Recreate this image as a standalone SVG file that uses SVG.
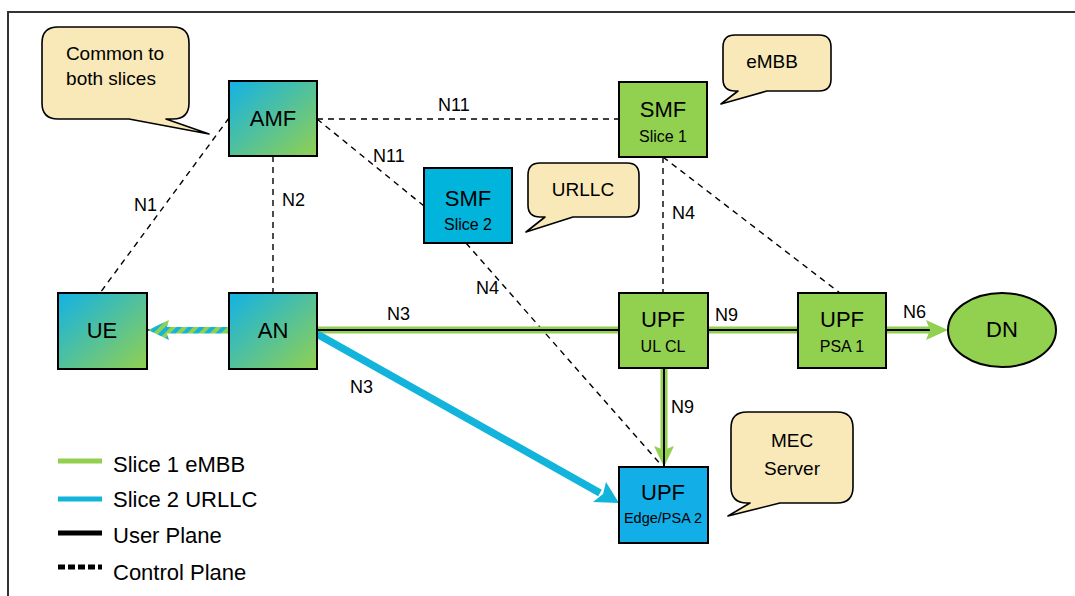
<svg xmlns="http://www.w3.org/2000/svg" width="1075" height="596" viewBox="0 0 1075 596">
<style>
text{font-family:"Liberation Sans",Arial,sans-serif;fill:#000}
.nt{font-size:22px;text-anchor:middle}
.st{font-size:16px;text-anchor:middle}
.lbl{font-size:18px}
.co{font-size:19px;text-anchor:middle}
.lg{font-size:22px}
.box{stroke:#000;stroke-width:2}
.call{fill:#f9e9b9;stroke:#000;stroke-width:1.6;stroke-linejoin:round}
.cp{stroke:#000;stroke-width:1.4;stroke-dasharray:6,5;fill:none}
.gl{stroke:#92d050;stroke-width:7;fill:none}
.bk{stroke:#000;stroke-width:2;fill:none}
</style>
<defs>
<linearGradient id="grad" x1="0" y1="0" x2="1" y2="1">
<stop offset="0" stop-color="#12b2e6"/>
<stop offset="1" stop-color="#92d050"/>
</linearGradient>
<pattern id="stripe" width="8" height="8" patternUnits="userSpaceOnUse" patternTransform="rotate(45)">
<rect width="8" height="8" fill="#12b4dc"/>
<rect width="4" height="8" fill="#92d050"/>
</pattern>
</defs>
<rect x="0" y="0" width="1075" height="596" fill="#fff"/>
<rect x="8" y="12" width="1075" height="600" fill="none" stroke="#333" stroke-width="2"/>

<g id="connectors">
<line class="cp" x1="317" y1="119" x2="619" y2="119"/>
<line class="cp" x1="317" y1="119" x2="424" y2="206"/>
<line class="cp" x1="229" y1="118" x2="100" y2="293"/>
<line class="cp" x1="273" y1="156" x2="273" y2="293"/>
<line class="cp" x1="663" y1="157" x2="663" y2="293"/>
<line class="cp" x1="663" y1="157" x2="840" y2="293"/>
<line class="cp" x1="466" y1="243" x2="662" y2="466"/>
<line x1="147" y1="330" x2="229" y2="330" stroke="#000" stroke-width="1.5"/>
<rect x="166" y="327" width="63" height="6.5" fill="url(#stripe)"/>
<polygon points="148,330 169,320 166,330 169,340" fill="url(#stripe)"/>
<line class="gl" x1="317" y1="330" x2="619" y2="330"/>
<line class="bk" x1="317" y1="330" x2="619" y2="330"/>
<line class="gl" x1="708" y1="330" x2="798" y2="330"/>
<line class="bk" x1="708" y1="330" x2="798" y2="330"/>
<line class="gl" x1="886" y1="330" x2="930" y2="330"/>
<line class="bk" x1="886" y1="330" x2="930" y2="330"/>
<polygon points="948,330 926,320 930,330 926,340" fill="#92d050"/>
<line class="gl" x1="664" y1="368" x2="664" y2="450"/>
<line class="bk" x1="664" y1="368" x2="664" y2="466"/>
<polygon points="664,467 654,446 664,450 674,446" fill="#92d050"/>
<line class="bk" x1="664" y1="448" x2="664" y2="467"/>
<line x1="317" y1="334" x2="600" y2="493" stroke="#12b4dc" stroke-width="7.5"/>
<polygon points="619,503 593,502 603,494 606,482" fill="#12b4dc"/>
</g>

<g id="labels">
<text class="lbl" x="438" y="111">N11</text>
<text class="lbl" x="373" y="162">N11</text>
<text class="lbl" x="134" y="211">N1</text>
<text class="lbl" x="282" y="206">N2</text>
<text class="lbl" x="672" y="219">N4</text>
<text class="lbl" x="476" y="294">N4</text>
<text class="lbl" x="387" y="320">N3</text>
<text class="lbl" x="350" y="393">N3</text>
<text class="lbl" x="715" y="321">N9</text>
<text class="lbl" x="903" y="318">N6</text>
<text class="lbl" x="671" y="413">N9</text>
</g>

<g id="amf">
<rect class="box" x="229" y="81" width="88" height="75" fill="url(#grad)"/>
<text class="nt" x="273" y="126">AMF</text>
</g>
<g id="smf1">
<rect class="box" x="619" y="82" width="88" height="75" fill="#92d050"/>
<text class="nt" x="663" y="117">SMF</text>
<text class="st" x="663" y="142">Slice 1</text>
</g>
<g id="smf2">
<rect class="box" x="424" y="168" width="88" height="75" fill="#00b4dc"/>
<text class="nt" x="468" y="206">SMF</text>
<text class="st" x="468" y="230">Slice 2</text>
</g>
<g id="ue">
<rect class="box" x="58" y="293" width="89" height="76" fill="url(#grad)"/>
<text class="nt" x="102" y="338">UE</text>
</g>
<g id="an">
<rect class="box" x="229" y="293" width="88" height="76" fill="url(#grad)"/>
<text class="nt" x="273" y="338">AN</text>
</g>
<g id="upf-ulcl">
<rect class="box" x="619" y="293" width="89" height="75" fill="#92d050"/>
<text class="nt" x="663" y="327">UPF</text>
<text class="st" x="663" y="352">UL CL</text>
</g>
<g id="upf-psa1">
<rect class="box" x="798" y="293" width="88" height="75" fill="#92d050"/>
<text class="nt" x="842" y="327">UPF</text>
<text class="st" x="842" y="352">PSA 1</text>
</g>
<g id="dn">
<ellipse class="box" cx="1002" cy="330" rx="54" ry="37" fill="#92d050"/>
<text class="nt" x="1002" y="337">DN</text>
</g>
<g id="upf-edge">
<rect class="box" x="619" y="467" width="89" height="76" fill="#12aee8"/>
<text class="nt" x="663" y="500">UPF</text>
<text class="st" x="663" y="523" style="font-size:14.5px">Edge/PSA 2</text>
</g>

<g id="callout-common">
<path class="call" d="M58,27 H173 Q189,27 189,43 V103 Q189,119 173,119 H166 L209,134 L129,119 H58 Q42,119 42,103 V43 Q42,27 58,27 Z"/>
<text class="co" x="115" y="60">Common to</text>
<text class="co" x="111" y="85">both slices</text>
</g>
<g id="callout-embb">
<path class="call" d="M735,35 H819 Q831,35 831,47 V79 Q831,91 819,91 H767 L721,104 L738,91 H735 Q723,91 723,79 V47 Q723,35 735,35 Z"/>
<text class="co" x="772" y="68">eMBB</text>
</g>
<g id="callout-urllc">
<path class="call" d="M540,163 H627 Q639,163 639,175 V205 Q639,217 627,217 H573 L526,232 L545,217 H540 Q528,217 528,205 V175 Q528,163 540,163 Z"/>
<text class="co" x="583" y="196">URLLC</text>
</g>
<g id="callout-mec">
<path class="call" d="M747,412 H837 Q853,412 853,428 V487 Q853,503 837,503 H780 L728,516 L750,503 H747 Q731,503 731,487 V428 Q731,412 747,412 Z"/>
<text class="co" x="792" y="447">MEC</text>
<text class="co" x="792" y="475">Server</text>
</g>

<g id="legend">
<line x1="58" y1="461" x2="102" y2="461" stroke="#92d050" stroke-width="5"/>
<text class="lg" x="113" y="472">Slice 1 eMBB</text>
<line x1="58" y1="499" x2="102" y2="499" stroke="#12b4dc" stroke-width="5"/>
<text class="lg" x="113" y="507">Slice 2 URLLC</text>
<line x1="58" y1="533" x2="102" y2="533" stroke="#000" stroke-width="5"/>
<text class="lg" x="113" y="543">User Plane</text>
<line x1="58" y1="567" x2="102" y2="567" stroke="#000" stroke-width="5" stroke-dasharray="7,3"/>
<text class="lg" x="113" y="580">Control Plane</text>
</g>
</svg>
